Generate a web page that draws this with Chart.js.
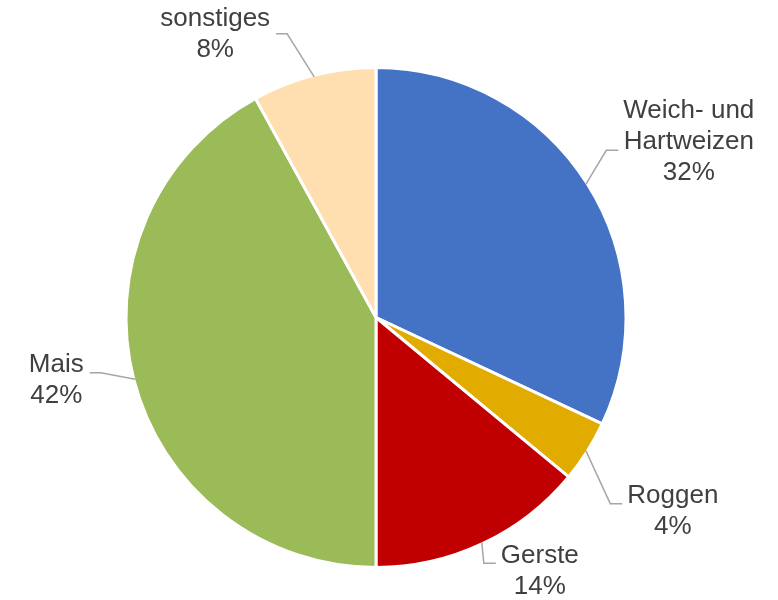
<!DOCTYPE html>
<html>
<head>
<meta charset="utf-8">
<script src="https://cdn.jsdelivr.net/npm/chart.js@4"></script>
<style>
    html, body { margin: 0; padding: 0; background: #fff; }
    #wrap { width: 778px; height: 600px; }
</style>
</head>
<body>
<div id="wrap"><canvas id="pieChart"></canvas></div>
<script>
// ─── Data ────────────────────────────
const categories = [['Weich- und', 'Hartweizen'], 'Roggen', 'Gerste', 'Mais', 'sonstiges'];
const shares = [32, 4, 14, 42, 8];
const colors = ['#4472C4', '#E2AB00', '#C00000', '#9BBB59', '#FFDEB0'];

// label placement relative to the slice edge (dx, dy = block centre, ly = leader y)
const labelPlacement = [
    { dx: 103, dy: -43, ly: 9 },
    { dx: 87, dy: 61, ly: -8 },
    { dx: 58, dy: 29, ly: -8 },
    { dx: -79, dy: 1.5, ly: -8 },
    { dx: -99, dy: -42, ly: -1 }
];

const total = shares.reduce((a, b) => a + b, 0);

// Custom plugin: outside labels with elbow leader lines
const outsideLabels = {
    id: 'outsideLabels',
    afterDatasetsDraw(chart) {
        const ctx = chart.ctx;
        const meta = chart.getDatasetMeta(0);
        ctx.save();
        ctx.font = '26px "Liberation Sans", Arial, sans-serif';
        ctx.textAlign = 'center';
        ctx.textBaseline = 'middle';
        const lineH = 31;

        meta.data.forEach((arc, i) => {
            const p = labelPlacement[i];
            const R = arc.outerRadius - 1.5;
            const mid = (arc.startAngle + arc.endAngle) / 2;
            const ex = arc.x + Math.cos(mid) * R;
            const ey = arc.y + Math.sin(mid) * R;

            const name = Array.isArray(categories[i]) ? categories[i] : [categories[i]];
            const lines = name.concat([Math.round(shares[i] / total * 100) + '%']);
            const cx = ex + p.dx, cy = ey + p.dy;
            const w = Math.max(...lines.map(l => ctx.measureText(l).width));

            // leader line
            const right = p.dx > 0;
            const endX = right ? cx - w / 2 - 5 : cx + w / 2 + 6;
            const elbowX = right ? endX - 12 : endX + 11;
            const ly = cy + p.ly;
            ctx.strokeStyle = '#A6A6A6';
            ctx.lineWidth = 1.5;
            ctx.beginPath();
            ctx.moveTo(ex, ey);
            ctx.lineTo(elbowX, ly);
            ctx.lineTo(endX, ly);
            ctx.stroke();

            ctx.fillStyle = '#404040';
            lines.forEach((l, k) => {
                ctx.fillText(l, cx, cy + (k - (lines.length - 1) / 2) * lineH);
            });
        });
        ctx.restore();
    }
};

new Chart(document.getElementById('pieChart'), {
    type: 'pie',
    data: {
        labels: categories,
        datasets: [{
            data: shares,
            backgroundColor: colors,
            borderColor: '#ffffff',
            borderWidth: 3
        }]
    },
    options: {
        responsive: true,
        maintainAspectRatio: false,
        animation: false,
        layout: { padding: { top: 66, bottom: 31, left: 100, right: 126 } },
        plugins: {
            legend: { display: false },
            tooltip: { enabled: false }
        }
    },
    plugins: [outsideLabels]
});
</script>
</body>
</html>
